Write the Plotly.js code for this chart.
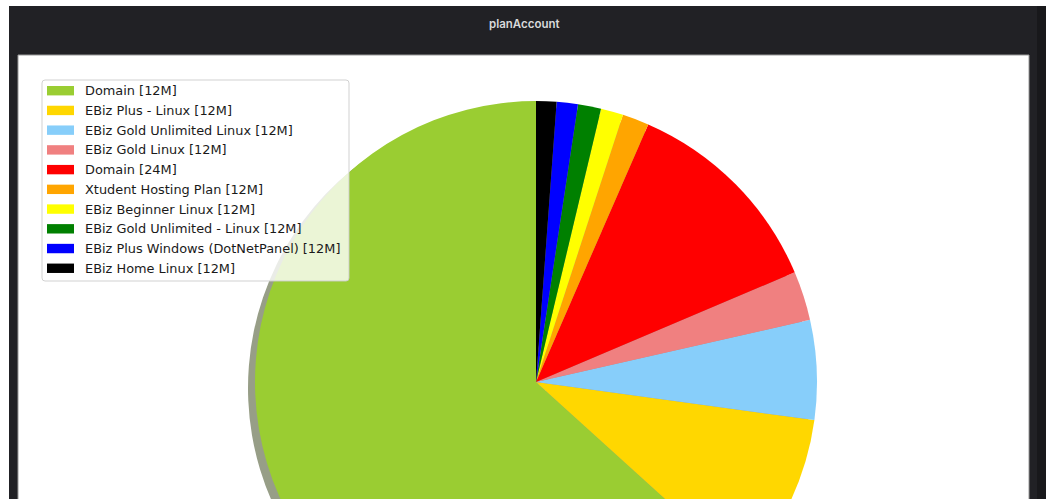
<!DOCTYPE html>
<html>
<head>
<meta charset="utf-8">
<script src="https://cdn.plot.ly/plotly-3.0.1.min.js"></script>
<style>
  html, body { margin: 0; padding: 0; overflow: hidden; background: #ffffff; }
  #chart { width: 1046px; height: 700px; }
</style>
</head>
<body>
<div id="chart"></div>
<script>
// ---- data ----
const chartTitle = "planAccount";
const labels = [
  "Domain [12M]",
  "EBiz Plus - Linux [12M]",
  "EBiz Gold Unlimited Linux [12M]",
  "EBiz Gold Linux [12M]",
  "Domain [24M]",
  "Xtudent Hosting Plan [12M]",
  "EBiz Beginner Linux [12M]",
  "EBiz Gold Unlimited - Linux [12M]",
  "EBiz Plus Windows (DotNetPanel) [12M]",
  "EBiz Home Linux [12M]"
];
const values = [63.3, 9.55, 5.72, 2.83, 12.08, 1.53, 1.29, 1.33, 1.22, 1.17];
const colors = ["#9ACD32", "#FFD700", "#87CEFA", "#F08080", "#FF0000",
                "#FFA500", "#FFFF00", "#008000", "#0000FF", "#000000"];

// ---- layout helpers (pixel -> paper) ----
const W = 1046, H = 700;
const px = x => x / W;
const py = y => 1 - y / H;

// pie geometry
const cx = 536, cy = 382, r = 281;
const shX = -7, shY = 6;

// Plotly's counterclockwise layout places the first slice ending at the
// rotation angle; shift so the first slice starts at 12 o'clock instead.
const total = values.reduce((a, b) => a + b, 0);
const startRotation = -values[0] / total * 360;

function shadowColor(hex) {
  const n = parseInt(hex.slice(1), 16);
  const ch = [(n >> 16) & 255, (n >> 8) & 255, n & 255];
  const out = ch.map(c => Math.round(c * 0.3 * 0.5 + 255 * 0.5));
  return "rgb(" + out.join(",") + ")";
}

const shadowTrace = {
  type: "pie",
  labels: labels,
  values: values,
  sort: false,
  direction: "counterclockwise",
  rotation: startRotation,
  textinfo: "none",
  hoverinfo: "skip",
  showlegend: false,
  marker: { colors: colors.map(shadowColor), line: { width: 0 } },
  domain: {
    x: [px(cx - r + shX), px(cx + r + shX)],
    y: [py(cy + r + shY), py(cy - r + shY)]
  }
};

const pieTrace = {
  type: "pie",
  labels: labels,
  values: values,
  sort: false,
  direction: "counterclockwise",
  rotation: startRotation,
  textinfo: "none",
  hoverinfo: "label+value+percent",
  showlegend: false,
  marker: { colors: colors, line: { width: 0 } },
  domain: {
    x: [px(cx - r), px(cx + r)],
    y: [py(cy + r), py(cy - r)]
  }
};

// frame shapes
const shapes = [
  { type: "rect", xref: "paper", yref: "paper", layer: "below",
    x0: px(9), x1: px(1046), y0: py(H), y1: py(6),
    fillcolor: "#212125", line: { width: 0 } },
  { type: "rect", xref: "paper", yref: "paper", layer: "below",
    x0: px(1037), x1: px(1046), y0: py(H), y1: py(6),
    fillcolor: "#18181b", line: { width: 0 } },
  { type: "rect", xref: "paper", yref: "paper", layer: "below",
    x0: px(18), x1: px(1029), y0: py(H), y1: py(55),
    fillcolor: "#ffffff", line: { color: "#9a9a9a", width: 1 } }
];

// legend (built from the data arrays)
const lgX0 = 42, lgX1 = 349, lgY0 = 80, lgY1 = 281;
const rowY0 = 90.7, rowStep = 19.73;
const rad = 3;
const rr = (x0, y0, x1, y1, k) =>
  "M" + px(x0 + k) + "," + py(y0) +
  " L" + px(x1 - k) + "," + py(y0) +
  " Q" + px(x1) + "," + py(y0) + " " + px(x1) + "," + py(y0 + k) +
  " L" + px(x1) + "," + py(y1 - k) +
  " Q" + px(x1) + "," + py(y1) + " " + px(x1 - k) + "," + py(y1) +
  " L" + px(x0 + k) + "," + py(y1) +
  " Q" + px(x0) + "," + py(y1) + " " + px(x0) + "," + py(y1 - k) +
  " L" + px(x0) + "," + py(y0 + k) +
  " Q" + px(x0) + "," + py(y0) + " " + px(x0 + k) + "," + py(y0) + " Z";

shapes.push({
  type: "path", xref: "paper", yref: "paper", layer: "above",
  path: rr(lgX0, lgY0, lgX1, lgY1, rad),
  fillcolor: "rgba(255,255,255,0.8)",
  line: { color: "rgba(204,204,204,0.9)", width: 1 }
});

const annotations = [{
  xref: "paper", yref: "paper", x: px(524), y: py(24),
  xanchor: "center", yanchor: "middle", showarrow: false,
  text: chartTitle,
  font: { family: "Inter, Roboto, sans-serif", size: 11.5, weight: 600, color: "#d8d9da" }
}];

labels.forEach((lab, i) => {
  const yc = rowY0 + i * rowStep;
  shapes.push({
    type: "rect", xref: "paper", yref: "paper", layer: "above",
    x0: px(47), x1: px(74), y0: py(yc + 4.7), y1: py(yc - 4.7),
    fillcolor: colors[i], line: { width: 0 }
  });
  annotations.push({
    xref: "paper", yref: "paper", x: px(83), y: py(yc),
    xanchor: "left", yanchor: "middle", showarrow: false,
    text: lab,
    font: { family: "DejaVu Sans, sans-serif", size: 12.9, color: "#1a1a1a" }
  });
});

const layout = {
  width: W,
  height: H,
  margin: { l: 0, r: 0, t: 0, b: 0, pad: 0 },
  paper_bgcolor: "#ffffff",
  plot_bgcolor: "#ffffff",
  showlegend: false,
  shapes: shapes,
  annotations: annotations
};

Plotly.newPlot("chart", [shadowTrace, pieTrace], layout, { displayModeBar: false, staticPlot: true });
</script>
</body>
</html>
